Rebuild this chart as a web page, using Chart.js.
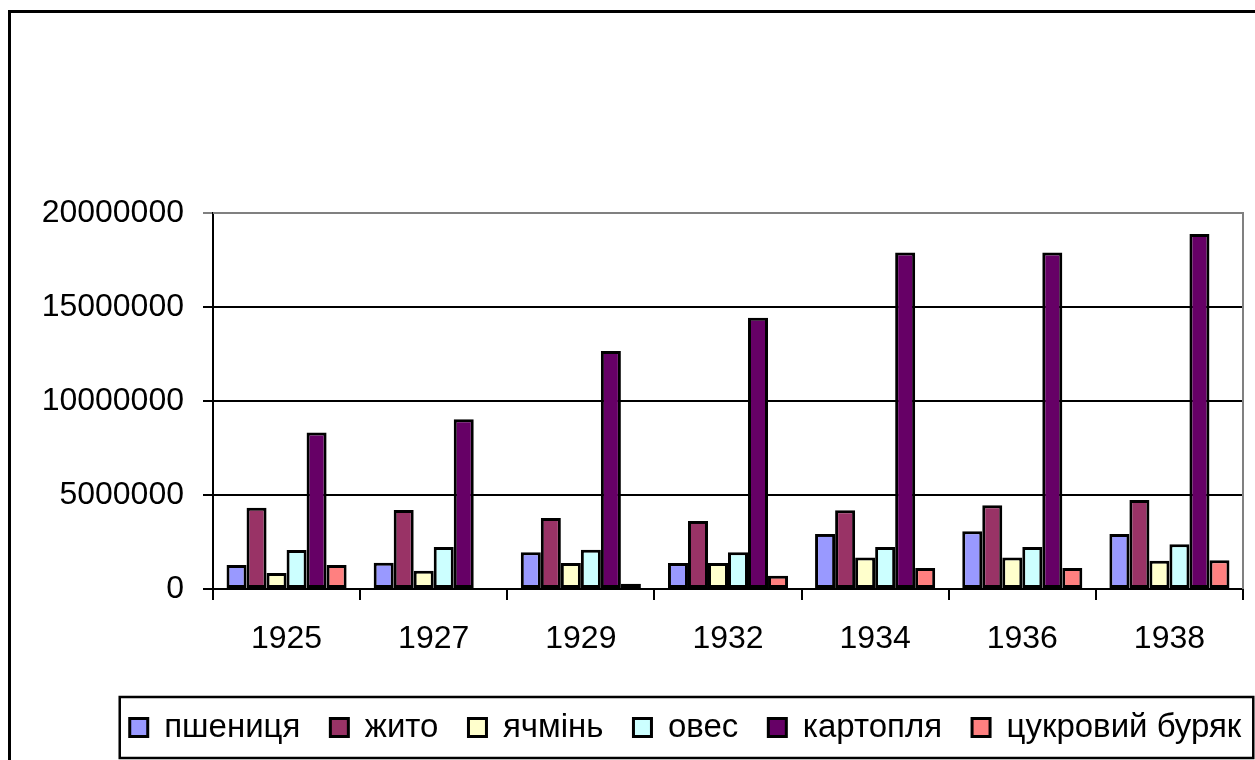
<!DOCTYPE html>
<html>
<head>
<meta charset="utf-8">
<script src="https://cdn.jsdelivr.net/npm/chart.js@4.4.1/dist/chart.umd.min.js"></script>
<style>
  html, body { margin: 0; padding: 0; background: #fff; overflow: hidden; }
  #frame {
    position: absolute; left: 8px; top: 10px;
    width: 1300px; height: 800px;
    border: 3px solid #000;
  }
  #wrap { position: absolute; left: 0; top: 0; width: 1255px; height: 760px; }
</style>
</head>
<body>
<div id="frame"></div>
<div id="wrap"><canvas id="canvas"></canvas></div>
<script>
  const years = ['1925', '1927', '1929', '1932', '1934', '1936', '1938'];

  const wheat = [1280000, 1400000, 1950000, 1380000, 2930000, 3070000, 2930000];
  const rye = [4320000, 4200000, 3780000, 3620000, 4190000, 4450000, 4730000];
  const barley = [850000, 970000, 1380000, 1380000, 1670000, 1670000, 1500000];
  const oats = [2070000, 2230000, 2090000, 1950000, 2230000, 2230000, 2380000];
  const potato = [8330000, 9030000, 12660000, 14430000, 17900000, 17900000, 18880000];
  const sugarBeet = [1280000, 0, 280000, 710000, 1120000, 1120000, 1530000];

  const yTicks = [0, 5000000, 10000000, 15000000, 20000000];

  const family = '"Liberation Sans", Arial, sans-serif';
  const axisFont = {family: family, size: 32};
  const legendFont = {family: family, size: 33};

  function series(label, data, color) {
    return {
      label: label,
      data: data,
      backgroundColor: color,
      borderColor: '#000',
      borderWidth: 3,
      borderSkipped: false,
    };
  }

  // сіра рамка області побудови (верх і правий край)
  const plotBorder = {
    id: 'plotBorder',
    beforeDatasetsDraw(chart) {
      const {ctx, chartArea} = chart;
      ctx.save();
      ctx.strokeStyle = '#808080';
      ctx.lineWidth = 2;
      ctx.beginPath();
      ctx.moveTo(chartArea.left, chartArea.top);
      ctx.lineTo(chartArea.right, chartArea.top);
      ctx.lineTo(chartArea.right, chartArea.bottom);
      ctx.stroke();
      ctx.restore();
    },
  };

  // легенда в Excel зсунута вправо відносно центру
  const legendShift = {
    id: 'legendShift',
    afterLayout(chart) {
      chart.legend.left += 64;
      chart.legend.right += 64;
    },
  };

  // рамка навколо легенди
  const legendBox = {
    id: 'legendBox',
    afterDraw(chart) {
      const boxes = chart.legend.legendHitBoxes;
      if (!boxes || !boxes.length) return;
      const left = Math.min(...boxes.map(b => b.left));
      const right = Math.max(...boxes.map(b => b.left + b.width));
      const mid = boxes[0].top + boxes[0].height / 2;
      const {ctx} = chart;
      ctx.save();
      ctx.strokeStyle = '#000';
      ctx.lineWidth = 2.5;
      ctx.strokeRect(left - 10, mid - 30.5, right - left + 22, 61);
      ctx.restore();
    },
  };

  const config = {
    type: 'bar',
    data: {
      labels: years,
      datasets: [
        series('пшениця', wheat, '#9999FF'),
        series('жито', rye, '#993366'),
        series('ячмінь', barley, '#FFFFCC'),
        series('овес', oats, '#CCFFFF'),
        series('картопля', potato, '#660066'),
        series('цукровий буряк', sugarBeet, '#FF8080'),
      ],
    },
    options: {
      responsive: true,
      maintainAspectRatio: false,
      animation: false,
      layout: {padding: {left: 0, right: 12, top: 213, bottom: 6}},
      datasets: {bar: {categoryPercentage: 0.816, barPercentage: 1.0}},
      plugins: {
        title: {display: false},
        tooltip: {enabled: false},
        legend: {
          position: 'bottom',
          labels: {
            color: '#000',
            font: legendFont,
            boxWidth: 18,
            boxHeight: 18,
            padding: 30,
          },
        },
      },
      scales: {
        x: {
          grid: {
            offset: true,
            drawOnChartArea: false,
            drawTicks: true,
            tickLength: 11,
            color: '#000',
            lineWidth: 2,
          },
          border: {color: '#000', width: 2},
          ticks: {color: '#000', font: axisFont, padding: 20, maxRotation: 0},
          afterFit(scale) { scale.height = 92; },
        },
        y: {
          min: 0,
          max: 20000000,
          afterBuildTicks(scale) { scale.ticks = yTicks.map(v => ({value: v})); },
          grid: {
            tickLength: 10,
            lineWidth: 2,
            color: c => (c.tick && c.tick.value === 20000000 ? '#808080' : '#000'),
          },
          border: {color: '#000', width: 2},
          ticks: {
            color: '#000',
            font: axisFont,
            padding: 19,
            callback: v => String(v),
          },
          afterFit(scale) { scale.width = 213; },
        },
      },
    },
    plugins: [plotBorder, legendShift, legendBox],
  };

  document.addEventListener('DOMContentLoaded', () => {
    const context = document.getElementById('canvas').getContext('2d');
    new Chart(context, config);
  });
</script>
</body>
</html>
